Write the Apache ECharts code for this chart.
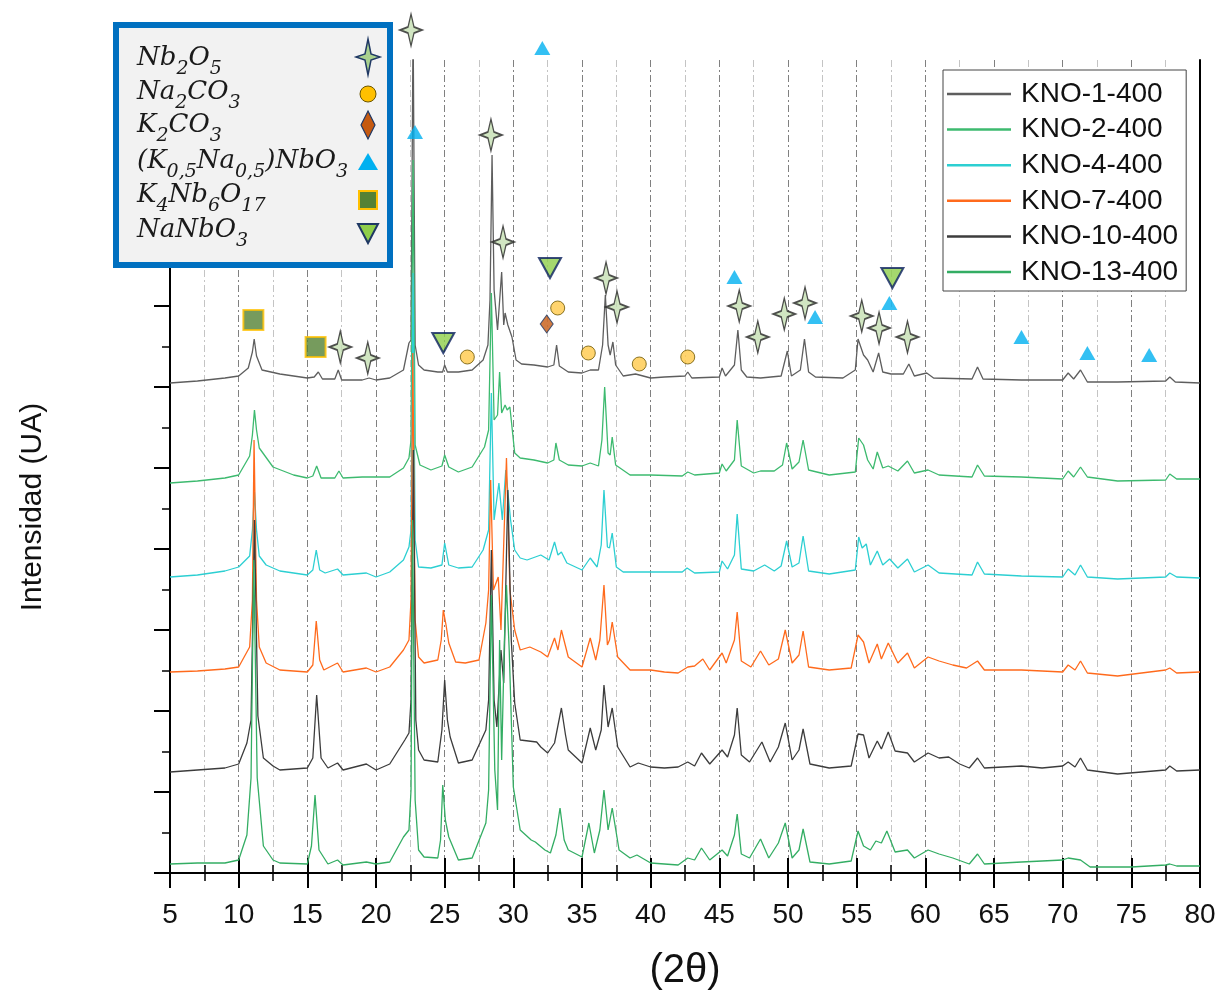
<!DOCTYPE html>
<html>
<head>
<meta charset="utf-8">
<script src="https://cdn.jsdelivr.net/npm/echarts@6/dist/echarts.min.js"></script>
<style>
  html, body { margin: 0; padding: 0; background: #fff; }
  #chart { width: 1222px; height: 997px; }
</style>
</head>
<body>
<div id="chart"></div>
<script>
// diffractograms, [2θ, intensity (UA, already offset for stacking)]
const kno1 = [[5,490],[7,492],[9,495],[10,497],[10.7,505],[11.0,521],[11.13,534],[11.3,517],[11.7,503],[13,499],[15,495],[15.5,496],[15.8,501],[16.1,494],[17.0,494],[17.25,503],[17.5,493],[19.0,493],[19.5,495],[20,493],[21,495],[22.0,503],[22.4,530],[22.55,533],[22.7,853],[22.85,528],[23.1,508],[23.5,503],[24.5,501],[24.85,501],[25.0,508],[25.2,501],[26,501],[27,503],[27.8,513],[28.15,528],[28.3,573],[28.45,718],[28.6,583],[28.85,543],[29.15,601],[29.3,548],[29.4,560],[29.6,548],[29.9,536],[30.2,513],[30.6,509],[31.5,508],[32.5,506],[32.95,508],[33.15,528],[33.35,507],[34,501],[35,500],[35.6,503],[36.2,503],[36.5,528],[36.7,578],[36.9,528],[37.05,518],[37.25,531],[37.45,508],[38,497],[38.9,499],[40,495],[41,496],[42.5,497],[42.7,501],[43,495],[45.0,496],[45.2,505],[45.45,497],[46.1,508],[46.35,543],[46.6,503],[47,496],[48,495],[49.5,497],[49.95,522],[50.25,497],[50.9,503],[51.2,534],[51.5,501],[52,496],[54,495],[54.9,503],[55.1,534],[55.5,518],[55.8,513],[56.2,501],[56.6,520],[56.9,501],[57.5,499],[58.4,499],[58.8,509],[59.2,497],[60.1,500],[60.6,495],[63.4,494],[63.8,506],[64.2,494],[67,493],[70,493],[70.4,500],[70.8,494],[71.3,503],[71.8,491],[74,491],[77.5,492],[77.8,496],[78.2,491],[80,490]];
const kno2 = [[5,390],[7,392],[9,395],[10,398],[10.8,417],[11.0,438],[11.15,463],[11.3,443],[11.5,425],[12.5,406],[14,398],[15,395],[15.4,397],[15.68,407],[16.0,395],[17.0,395],[17.3,402],[17.6,395],[19,396],[20,396],[21,396],[22.0,405],[22.4,415],[22.55,433],[22.7,713],[22.85,428],[23.2,408],[24,403],[24.8,407],[25.0,418],[25.3,406],[26,401],[27,406],[27.9,426],[28.2,443],[28.4,580],[28.6,453],[28.85,458],[29.0,501],[29.15,460],[29.4,468],[29.55,463],[29.75,466],[30.1,420],[30.5,415],[31.5,413],[32.5,410],[32.95,413],[33.1,430],[33.35,413],[34,408],[35,407],[35.6,410],[36.2,407],[36.45,433],[36.65,486],[36.9,420],[37.05,418],[37.2,436],[37.45,408],[38.5,398],[40,398],[42.3,397],[42.7,401],[43.2,398],[45,400],[45.2,409],[45.5,402],[46.1,413],[46.3,453],[46.6,407],[47.5,400],[48,402],[49,402],[49.6,408],[49.9,430],[50.3,404],[50.8,411],[51.1,433],[51.5,403],[53,398],[54.9,401],[55.15,435],[55.5,428],[55.8,413],[56.2,404],[56.5,421],[56.9,405],[57.3,407],[58,402],[58.7,412],[59.2,400],[60.2,403],[61,398],[63.4,396],[63.8,408],[64.3,397],[67,396],[70,394],[70.4,402],[70.8,396],[71.3,406],[71.8,396],[74,392],[77.5,393],[77.8,399],[78.3,394],[80,394]];
const kno4 = [[5,296],[7,298],[9,302],[10,306],[10.8,317],[11.0,343],[11.15,381],[11.3,343],[11.5,317],[12,308],[13,302],[15,298],[15.4,303],[15.65,323],[15.9,303],[16.3,300],[17.2,304],[17.6,298],[19.3,300],[20,296],[21,301],[22.0,313],[22.4,326],[22.55,343],[22.7,600],[22.85,333],[23.1,306],[24,305],[24.8,308],[25.0,330],[25.3,308],[26,305],[27,306],[27.8,323],[28.2,343],[28.4,480],[28.6,353],[28.95,390],[29.2,353],[29.45,403],[29.8,353],[30.1,323],[30.5,315],[31,313],[32,318],[32.6,313],[33.0,331],[33.25,318],[33.5,321],[33.9,310],[35,303],[35.6,315],[36.1,306],[36.4,328],[36.6,383],[36.85,326],[37.0,325],[37.2,340],[37.5,306],[38,301],[40,301],[42.3,301],[42.65,305],[43.2,300],[45,301],[45.2,312],[45.6,304],[46.1,318],[46.3,359],[46.6,304],[47.5,302],[48.3,308],[49,302],[49.5,307],[49.9,332],[50.3,306],[50.8,310],[51.1,337],[51.5,302],[53,299],[54.9,303],[55.15,336],[55.4,325],[55.7,329],[56.0,308],[56.5,322],[56.9,308],[57.4,314],[58,305],[58.7,314],[59.2,301],[60.2,308],[61,300],[63.4,298],[63.8,311],[64.3,299],[67,297],[70,296],[70.4,304],[70.9,298],[71.3,308],[71.8,296],[74,294],[77.5,296],[77.8,300],[78.3,296],[80,295]];
const kno7 = [[5,201],[7,202],[9,204],[10,206],[10.8,226],[11.0,273],[11.12,433],[11.3,273],[11.5,226],[12,210],[13,203],[15,201],[15.4,208],[15.65,252],[15.9,213],[16.2,203],[17.2,210],[17.6,201],[19.3,205],[20,201],[21,206],[22.0,223],[22.4,233],[22.55,273],[22.68,520],[22.85,253],[23.1,216],[23.5,210],[24.5,213],[24.75,233],[24.9,263],[25.1,248],[25.3,230],[25.8,211],[26.5,210],[27.5,213],[28.0,250],[28.2,283],[28.35,393],[28.55,283],[28.9,296],[29.1,243],[29.5,415],[29.75,283],[30.1,243],[30.5,223],[31.2,226],[32,221],[32.5,216],[33.0,235],[33.25,223],[33.5,243],[34,216],[35,206],[35.6,235],[36.0,213],[36.3,233],[36.6,288],[36.85,228],[37.0,233],[37.2,251],[37.6,216],[38.5,203],[40,203],[41,201],[42,200],[42.7,206],[43.2,207],[43.8,214],[44.3,203],[45.2,220],[45.5,210],[46.1,233],[46.3,261],[46.6,212],[47.3,206],[48.0,222],[48.6,208],[49.3,214],[49.8,243],[50.3,210],[50.8,218],[51.1,242],[51.5,206],[53,203],[54.6,205],[55.1,238],[55.5,231],[55.9,210],[56.5,229],[56.8,214],[57.3,230],[58,210],[58.7,220],[59.2,205],[60.2,216],[61,212],[62,208],[63,205],[63.8,212],[64.3,203],[67,203],[70,201],[70.4,208],[70.9,203],[71.3,212],[71.8,200],[74,197],[77.5,203],[77.8,205],[78.3,200],[80,201]];
const kno10 = [[5,101],[7,103],[9,105],[10,109],[10.6,130],[10.9,153],[11.15,353],[11.4,157],[11.8,115],[12.5,107],[13,103],[15,105],[15.4,115],[15.68,178],[16.0,115],[16.5,105],[17.2,110],[17.6,103],[19.3,109],[20,103],[21,109],[22.1,133],[22.4,140],[22.55,173],[22.72,423],[22.9,153],[23.1,123],[23.5,113],[24.5,111],[24.8,143],[25.0,193],[25.2,153],[25.4,136],[26,110],[27,113],[28.0,143],[28.2,173],[28.4,323],[28.6,173],[28.8,146],[29.1,223],[29.3,190],[29.6,383],[29.85,233],[30.1,170],[30.5,133],[31.7,131],[32,126],[32.5,120],[33.0,130],[33.5,165],[33.8,138],[34,123],[35,110],[35.6,145],[36.0,123],[36.4,143],[36.6,188],[36.9,146],[37.2,165],[37.6,126],[38.5,106],[39.1,110],[40,106],[41,105],[42,106],[42.7,111],[43.2,107],[43.7,120],[44.3,109],[45.2,123],[45.6,116],[46.1,138],[46.3,165],[46.6,118],[47.2,111],[48.1,131],[48.7,111],[49.3,126],[49.8,150],[50.3,113],[50.8,123],[51.1,144],[51.6,109],[53,105],[54.6,107],[55.1,139],[55.5,138],[55.9,115],[56.5,132],[56.8,124],[57.3,141],[57.8,122],[58.7,120],[59.2,111],[60.2,120],[61,115],[61.7,116],[62.5,109],[63.2,105],[63.8,115],[64.3,105],[67,107],[68.5,105],[70,107],[70.4,111],[70.9,106],[71.3,115],[71.8,103],[74,99],[77.5,103],[77.8,107],[78.3,102],[80,103]];
const kno13 = [[5,9],[7,10],[9,10],[10,13],[10.6,38],[10.9,95],[11.1,313],[11.35,95],[11.8,27],[12.5,13],[13,10],[15,9],[15.3,27],[15.56,78],[15.85,23],[16.5,9],[17.2,13],[17.6,8],[19.3,11],[20,9],[21,11],[22,36],[22.4,43],[22.55,83],[22.66,353],[22.85,73],[23.1,23],[23.5,16],[24.5,15],[24.7,33],[24.86,88],[25.05,53],[25.3,36],[26,13],[27,15],[28.0,50],[28.2,83],[28.4,278],[28.65,103],[28.85,63],[29.0,233],[29.15,113],[29.35,233],[29.5,288],[29.7,223],[30.0,86],[30.5,43],[31.3,33],[31.6,31],[32.3,23],[32.7,20],[33.1,38],[33.4,65],[33.7,33],[34,23],[35,16],[35.5,50],[35.9,20],[36.3,43],[36.6,83],[36.9,43],[37.2,65],[37.7,23],[38.5,15],[39.0,18],[40,10],[42,8],[42.7,15],[43.2,13],[43.7,25],[44.3,13],[45.2,23],[45.6,17],[46.1,38],[46.3,59],[46.6,19],[47.2,15],[48.0,34],[48.6,15],[49.3,30],[49.8,50],[50.3,15],[50.8,23],[51.1,44],[51.6,11],[53,9],[54.6,12],[55.1,42],[55.5,27],[56.0,23],[56.4,32],[56.8,30],[57.2,42],[57.8,21],[58.7,23],[59.2,15],[60.2,23],[61,19],[62,15],[63.2,9],[63.8,19],[64.3,9],[67,11],[70,13],[70.4,15],[71.3,13],[72,6],[75,6],[77.5,8],[77.8,9],[78.3,7],[80,7]];

const seriesNames = ['KNO-1-400', 'KNO-2-400', 'KNO-4-400', 'KNO-7-400', 'KNO-10-400', 'KNO-13-400'];
const seriesData = [kno1, kno2, kno4, kno7, kno10, kno13];
const seriesColors = ['#5e5e5e', '#3dba6f', '#2ccfd2', '#ff6a1c', '#3c3c3c', '#33ad63'];

// phase markers, [2θ, intensity]
const nb2o5Marks = [[22.55,843],[28.37,738],[29.25,631],[36.75,595],[37.55,566],[17.4,526],[19.4,515],[46.45,567],[47.8,536],[49.73,559],[51.24,570],[55.37,557],[56.63,545],[58.7,536]];
const na2co3Marks = [[26.65,516],[33.23,565],[35.46,520],[39.17,509],[42.7,516]];
const k2co3Marks = [[32.43,549]];
const knnMarks = [[32.11,825],[22.84,741],[46.1,596],[51.97,556],[57.38,570],[67.0,536],[71.8,520],[76.3,518]];
const k4nb6o17Marks = [[11.07,553],[15.6,526]];
const nanbo3Marks = [[24.9,530],[32.67,605],[57.6,595]];

// phase names, split into [normal, subscript] pieces
const phaseNames = [
  [['Nb', '2'], ['O', '5']],
  [['Na', '2'], ['CO', '3']],
  [['K', '2'], ['CO', '3']],
  [['(K', '0,5'], ['Na', '0,5'], [')NbO', '3']],
  [['K', '4'], ['Nb', '6'], ['O', '17']],
  [['NaNbO', '3']]
];

const xTicks = { min: 5, max: 80, step: 5 };
const yTicks = { min: 0, max: 813, step: 81 };

const starPath = 'path://M0,-16 L3,-3 L11,0 L3,3 L0,16 L-3,3 L-11,0 L-3,-3 Z';

const chart = echarts.init(document.getElementById('chart'));

const lineSeries = seriesNames.map((name, i) => ({
  name: name,
  type: 'line',
  data: seriesData[i],
  showSymbol: false,
  symbol: 'none',
  color: seriesColors[i],
  lineStyle: { width: 1.3, color: seriesColors[i] },
  z: 2 + i,
  silent: true
}));

function marks(data, symbol, size, style, rotate) {
  return {
    type: 'scatter',
    data: data,
    symbol: symbol,
    symbolSize: size,
    symbolRotate: rotate || 0,
    itemStyle: style,
    clip: false,
    z: 20,
    silent: true
  };
}

const markSeries = [
  marks(nb2o5Marks, starPath, [22, 32], { color: '#c5e0b3', borderColor: '#262626', borderWidth: 1.5 }),
  marks(na2co3Marks, 'circle', 14, { color: '#ffc94a', borderColor: '#6b5500', borderWidth: 1 }),
  marks(k2co3Marks, 'diamond', [13, 18], { color: '#c55a11', borderColor: '#1f3864', borderWidth: 1 }),
  marks(knnMarks, 'triangle', [16, 14], { color: '#00b0f0' }),
  marks(k4nb6o17Marks, 'rect', [20, 20], { color: '#548235', borderColor: '#ffc000', borderWidth: 2 }),
  marks(nanbo3Marks, 'triangle', [22, 20], { color: '#8fce4a', borderColor: '#0b2160', borderWidth: 2 }, 180)
];

// phase legend (top left box), text pieces laid out with measured widths
const mainFont = 'italic 26px "DejaVu Serif"';
const subFont = 'italic 19px "DejaVu Serif"';
const measure = document.createElement('canvas').getContext('2d');
function textWidth(str, font) {
  measure.font = font;
  return measure.measureText(str).width;
}
const rowY = [58, 92, 125, 161, 195, 230];
const legendGraphics = [
  { type: 'rect', shape: { x: 116, y: 25, width: 274, height: 240 },
    style: { fill: '#f2f2f2', stroke: '#0070c0', lineWidth: 6 }, z: 100 }
];
phaseNames.forEach((pieces, i) => {
  let x = 137;
  pieces.forEach(([main, sub]) => {
    legendGraphics.push({ type: 'text', x: x, y: rowY[i], z: 101,
      style: { text: main, font: mainFont, fill: '#1a1a1a', verticalAlign: 'middle', align: 'left' } });
    x += textWidth(main, mainFont);
    legendGraphics.push({ type: 'text', x: x, y: rowY[i] + 11, z: 101,
      style: { text: sub, font: subFont, fill: '#1a1a1a', verticalAlign: 'middle', align: 'left' } });
    x += textWidth(sub, subFont);
  });
});
const sx = 368;
legendGraphics.push(
  { type: 'polygon', z: 101, shape: { points: [[sx,39],[sx+3,54],[sx+12,57],[sx+3,60],[sx,75],[sx-3,60],[sx-12,57],[sx-3,54]] },
    style: { fill: '#a9d18e', stroke: '#1f3864', lineWidth: 1.5 } },
  { type: 'circle', z: 101, shape: { cx: sx, cy: 94, r: 8 }, style: { fill: '#ffc000', stroke: '#6b5500', lineWidth: 1 } },
  { type: 'polygon', z: 101, shape: { points: [[sx,111],[sx+7,125],[sx,139],[sx-7,125]] },
    style: { fill: '#c55a11', stroke: '#1f3864', lineWidth: 1.2 } },
  { type: 'polygon', z: 101, shape: { points: [[sx,153],[sx+10,170],[sx-10,170]] }, style: { fill: '#00b0f0' } },
  { type: 'rect', z: 101, shape: { x: sx - 9, y: 191, width: 18, height: 18 },
    style: { fill: '#548235', stroke: '#ffc000', lineWidth: 2 } },
  { type: 'polygon', z: 101, shape: { points: [[sx-10,224],[sx+10,224],[sx,243]] },
    style: { fill: '#8fce4a', stroke: '#1f3864', lineWidth: 2 } },
  { type: 'text', z: 50, x: 33, y: 507, rotation: Math.PI / 2,
    style: { text: 'Intensidad (UA)', fontFamily: 'Liberation Sans', fontSize: 30, fill: '#111',
      align: 'center', verticalAlign: 'middle' } }
);

const option = {
  animation: false,
  backgroundColor: '#fff',
  grid: { left: 170, top: 60, right: 22, bottom: 124 },
  legend: {
    data: seriesNames,
    orient: 'vertical',
    left: 943,
    top: 70,
    icon: 'rect',
    itemWidth: 64,
    itemHeight: 2.5,
    itemGap: 5.6,
    padding: [9, 8, 4, 4],
    backgroundColor: '#fff',
    borderColor: '#444',
    borderWidth: 1,
    textStyle: { fontFamily: 'Liberation Sans', fontSize: 28, lineHeight: 30, color: '#111', padding: [0, 0, 0, 5] }
  },
  xAxis: [
    {
      type: 'value', position: 'bottom', min: xTicks.min, max: xTicks.max, interval: xTicks.step,
      name: '(2θ)', nameLocation: 'middle', nameGap: 78,
      nameTextStyle: { fontFamily: 'Liberation Sans', fontSize: 40, color: '#111' },
      axisLine: { lineStyle: { color: '#000', width: 2 } },
      axisTick: { length: 15, lineStyle: { color: '#000', width: 2 } },
      minorTick: { show: true, splitNumber: 2, length: 8, lineStyle: { color: '#000', width: 1.5 } },
      axisLabel: { fontFamily: 'Liberation Sans', fontSize: 28, color: '#111', margin: 28 },
      splitLine: { show: true, lineStyle: { color: '#808080', width: 1, type: [7, 3, 2, 3] } },
      minorSplitLine: { show: true, lineStyle: { color: '#c4c4c4', width: 1, type: [7, 3, 2, 3] } }
    },
    {
      type: 'value', position: 'top', min: xTicks.min, max: xTicks.max, interval: xTicks.step,
      axisLine: { lineStyle: { color: '#000', width: 2 } },
      axisTick: { length: 15, lineStyle: { color: '#000', width: 2 } },
      minorTick: { show: true, splitNumber: 2, length: 8, lineStyle: { color: '#000', width: 1.5 } },
      axisLabel: { show: false },
      splitLine: { show: false }
    }
  ],
  yAxis: [
    {
      type: 'value', position: 'left', min: yTicks.min, max: yTicks.max, interval: yTicks.step,
      axisLine: { show: true, lineStyle: { color: '#000', width: 2 } },
      axisTick: { show: true, length: 16, lineStyle: { color: '#000', width: 2 } },
      minorTick: { show: true, splitNumber: 2, length: 8, lineStyle: { color: '#000', width: 1.5 } },
      axisLabel: { show: false },
      splitLine: { show: false }
    },
    {
      type: 'value', position: 'right', min: yTicks.min, max: yTicks.max, interval: yTicks.step,
      axisLine: { show: true, lineStyle: { color: '#000', width: 2 } },
      axisTick: { show: false },
      axisLabel: { show: false },
      splitLine: { show: false }
    }
  ],
  graphic: legendGraphics,
  series: lineSeries.concat(markSeries)
};

chart.setOption(option);
</script>
</body>
</html>
